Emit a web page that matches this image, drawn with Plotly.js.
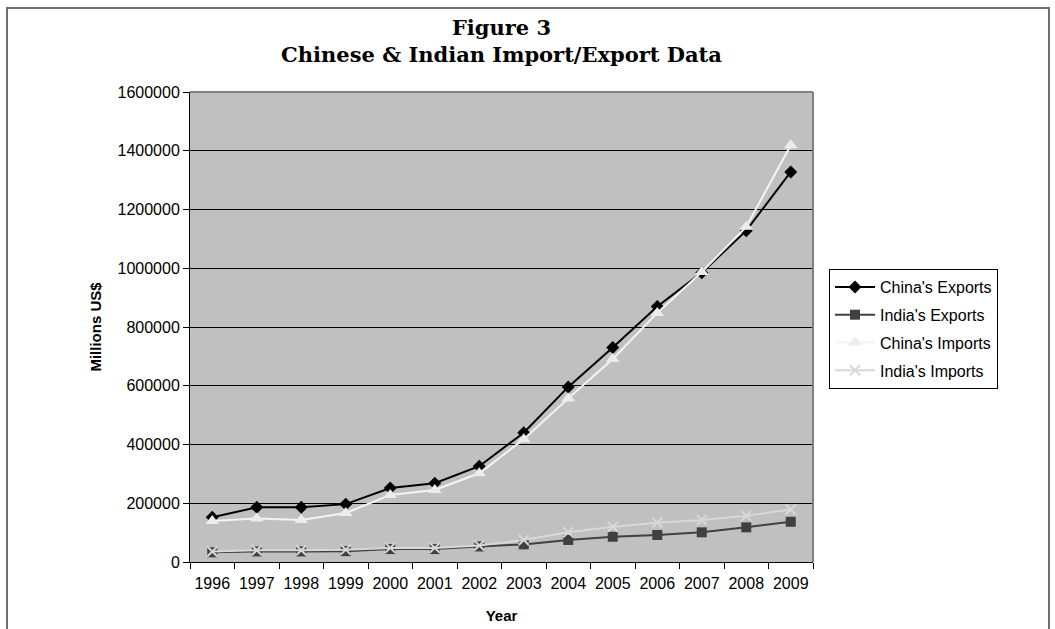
<!DOCTYPE html>
<html>
<head>
<meta charset="utf-8">
<script src="https://cdn.plot.ly/plotly-3.0.1.min.js"></script>
<style>
  html, body { margin: 0; padding: 0; background: #ffffff; }
  #chart { width: 1055px; height: 629px; }
</style>
</head>
<body>
<div id="chart"></div>
<script>
const years = ['1996','1997','1998','1999','2000','2001','2002','2003','2004','2005','2006','2007','2008','2009'];
const chinaExports = [152000, 186000, 186000, 197000, 252000, 268000, 326000, 440000, 596000, 730000, 870000, 985000, 1128000, 1328000];
const indiaExports = [33000, 36000, 36000, 37000, 44000, 44000, 53000, 60000, 75000, 86000, 92000, 101000, 118000, 137000];
const chinaImports = [140000, 148000, 143000, 167000, 228000, 245000, 302000, 418000, 557000, 691000, 848000, 987000, 1141000, 1419000];
const indiaImports = [36000, 40000, 40000, 42000, 48000, 48000, 56000, 75000, 101000, 120000, 134000, 143000, 157000, 179000];
const yTicks = [0, 200000, 400000, 600000, 800000, 1000000, 1200000, 1400000, 1600000];
const seriesNames = ["China's Exports", "India's Exports", "China's Imports", "India's Imports"];

const L = 190, R = 813, T = 92, B = 562, W = 1055, H = 629;
const pw = R - L, ph = B - T;
const px = v => (v - L) / pw;
const py = v => (B - v) / ph;

const traces = [
  { x: years, y: chinaExports, name: seriesNames[0], type: 'scatter', mode: 'lines+markers',
    line: { color: '#000000', width: 2 },
    marker: { symbol: 'diamond', size: 10, color: '#000000' }, legendgroup: 'a' },
  { x: years, y: indiaExports, name: seriesNames[1], type: 'scatter', mode: 'lines+markers',
    line: { color: '#404040', width: 2 },
    marker: { symbol: 'square', size: 10, color: '#404040' }, legendgroup: 'b' },
  { x: years, y: chinaImports, name: seriesNames[2], type: 'scatter', mode: 'lines+markers',
    line: { color: '#f4f4f4', width: 2 },
    marker: { symbol: 'triangle-up', size: 12, color: '#ececec' }, legendgroup: 'c' },
  { x: years, y: indiaImports, name: seriesNames[3], type: 'scatter', mode: 'lines+markers',
    line: { color: '#d8d8d8', width: 2 },
    marker: { symbol: 'x-thin', size: 10, color: '#d8d8d8', line: { color: '#d8d8d8', width: 2 } }, legendgroup: 'd' }
];

const layout = {
  width: W, height: H,
  margin: { l: L, r: W - R, t: T, b: H - B, pad: 0 },
  paper_bgcolor: '#ffffff',
  plot_bgcolor: '#c0c0c0',
  font: { family: 'Liberation Sans, Arial, sans-serif', size: 16, color: '#000000' },
  title: {
    text: 'Figure 3<br>Chinese & Indian Import/Export Data',
    font: { family: 'DejaVu Serif, serif', size: 21, color: '#000000', weight: 'bold' },
    x: 0.5, xref: 'paper', xanchor: 'center',
    y: 1 - 35 / H, yref: 'container', yanchor: 'top'
  },
  xaxis: {
    type: 'category',
    range: [-0.5, 13.5],
    tickmode: 'array', tickvals: years, ticktext: years,
    tickson: 'boundaries', tickangle: 0,
    ticks: 'outside', ticklen: 6, tickcolor: '#000000', tickwidth: 1,
    ticklabelstandoff: 7,
    showline: true, linecolor: '#000000', linewidth: 1,
    showgrid: false, zeroline: false,
    tickfont: { size: 16 },
    title: { text: 'Year', font: { size: 15, weight: 'bold' }, standoff: 19 }
  },
  yaxis: {
    range: [0, 1600000],
    tickmode: 'array', tickvals: yTicks, ticktext: yTicks.map(String),
    ticks: 'outside', ticklen: 6, tickcolor: '#000000', tickwidth: 1,
    showline: true, linecolor: '#000000', linewidth: 1,
    showgrid: true, gridcolor: '#000000', gridwidth: 1,
    zeroline: false,
    tickfont: { size: 16 },
    title: { text: 'Millions US$', font: { size: 15, weight: 'bold' }, standoff: 12 }
  },
  legend: {
    x: px(829), y: py(269), xanchor: 'left', yanchor: 'top',
    bgcolor: '#ffffff', bordercolor: '#000000', borderwidth: 1,
    font: { size: 16, color: '#000000' },
    itemwidth: 40,
    traceorder: 'grouped', tracegroupgap: 4
  },
  showlegend: true,
  shapes: [
    { type: 'line', xref: 'paper', yref: 'paper', x0: 0, x1: 1, y0: 1, y1: 1,
      line: { color: '#808080', width: 2 } },
    { type: 'line', xref: 'paper', yref: 'paper', x0: 1, x1: 1, y0: 0, y1: 1,
      line: { color: '#808080', width: 2 } },
    { type: 'rect', xref: 'paper', yref: 'paper',
      x0: px(7), x1: px(1049), y0: py(8), y1: py(660),
      line: { color: '#707070', width: 2 }, fillcolor: 'rgba(0,0,0,0)', layer: 'below' }
  ]
};

Plotly.newPlot('chart', traces, layout, { staticPlot: true, displayModeBar: false });
</script>
</body>
</html>
